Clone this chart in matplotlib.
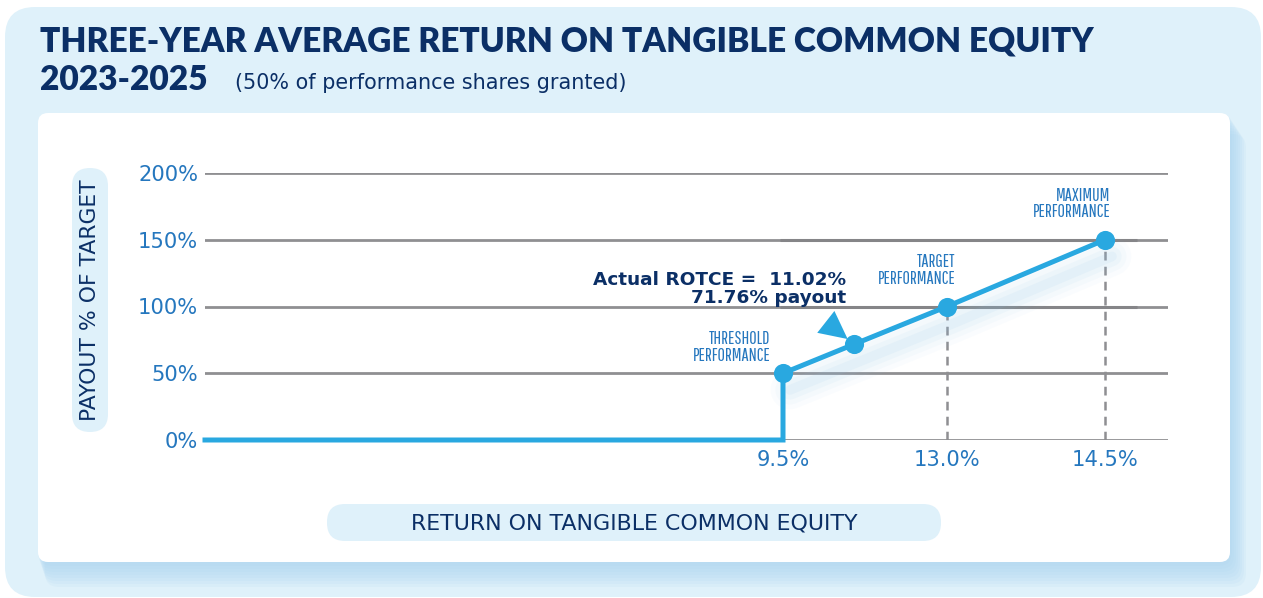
import numpy as np
import matplotlib
matplotlib.use("Agg")
import matplotlib.pyplot as plt
from matplotlib.patches import FancyBboxPatch
from matplotlib import transforms

# chart data
rotce = [9.5, 11.02, 13.0, 14.5]
payout = [50, 71.76, 100, 150]
point_names = ["THRESHOLD\nPERFORMANCE", "", "TARGET\nPERFORMANCE", "MAXIMUM\nPERFORMANCE"]
x_ticks = [9.5, 13.0, 14.5]
x_tick_labels = ["9.5%", "13.0%", "14.5%"]
y_ticks = [0, 50, 100, 150, 200]
y_tick_labels = ["0%", "50%", "100%", "150%", "200%"]
actual_label = "Actual ROTCE =  11.02%\n71.76% payout"

NAVY = "#0b2f66"
BLUE = "#29a8e0"
TICKBLUE = "#2577be"
GRAY = "#8f8f92"
PALE = "#dff1fa"
SANS = ["DejaVu Sans"]
HEAVY = ["Lato", "DejaVu Sans"]
COND = ["Pathway Gothic One", "PT Sans Narrow", "Roboto Condensed", "IBM Plex Sans Condensed",
        "DejaVu Sans"]

W, H = 1263, 598
fig = plt.figure(figsize=(W / 100, H / 100), dpi=100)
fig.patch.set_facecolor("white")
ident = transforms.IdentityTransform()
renderer = fig.canvas.get_renderer()


def box(x0, y0, x1, y1, r, color, alpha=1.0, z=-5):
    # pixel box, measured from the top-left corner
    p = FancyBboxPatch((x0 + r, H - y1 + r), x1 - x0 - 2 * r, y1 - y0 - 2 * r,
                       boxstyle=f"round,pad={r}", transform=ident,
                       fc=color, ec="none", alpha=alpha, zorder=z)
    fig.patches.append(p)


def ftext(x, y, s, **kw):
    return fig.text(x / W, 1 - y / H, s, **kw)


def fit(t, target, vertical=False):
    # scale the font so the text covers the same width as in the reference
    bb = t.get_window_extent(renderer)
    size = bb.height if vertical else bb.width
    t.set_fontsize(t.get_fontsize() * target / size)
    return t.get_fontsize()


# panels
box(5, 7, 1261, 597, 30, PALE)
for i in range(8):
    box(38 + i, 113 + 3 * i, 1230 + 2 + i * 2, 562 + 4 + i * 3, 14, "#a8d4f0", alpha=0.12)
box(38, 113, 1230, 562, 10, "white")

# titles
t = ftext(40, 52, "THREE-YEAR AVERAGE RETURN ON TANGIBLE COMMON EQUITY",
          fontsize=24, fontweight="heavy", family=HEAVY, color=NAVY, va="baseline")
title_size = fit(t, 1057)
ftext(40, 90, "2023-2025", fontsize=title_size, fontweight="heavy", family=HEAVY,
      color=NAVY, va="baseline")
t = ftext(235, 89, "(50% of performance shares granted)", fontsize=14, family=SANS,
          color=NAVY, va="baseline")
fit(t, 393)

# axis label pills
box(72, 168, 108, 432, 18, PALE)
t = ftext(90, 300, "PAYOUT % OF TARGET", rotation=90, ha="center", va="center",
          fontsize=15, family=SANS, color=NAVY)
fit(t, 242, vertical=True)
box(327, 504, 941, 541, 18, PALE)
t = ftext(634, 523, "RETURN ON TANGIBLE COMMON EQUITY", ha="center", va="center",
          fontsize=15, family=SANS, color=NAVY)
fit(t, 447)

# tick label size taken from the width of "200%"
probe = fig.text(0, 0, y_tick_labels[-1], fontsize=14, family=SANS)
tick_size = fit(probe, 60)
probe.remove()

ax = fig.add_axes([205 / W, 1 - 440 / H, 963 / W, 267 / H])
ax.set_facecolor("none")
ax.set_zorder(3)

# uneven spacing of the x axis, as in the original layout
xk = [0.0, 9.5, 13.0, 14.5, 15.5]
uk = [0.0, 578.0, 742.0, 900.0, 963.0]
ax.set_xscale("function", functions=(lambda v: np.interp(v, xk, uk),
                                     lambda u: np.interp(u, uk, xk)))
ax.set_xlim(xk[0], xk[-1])
ax.set_ylim(0, 200)
for s in ax.spines.values():
    s.set_visible(False)

for y in y_ticks:
    ax.axhline(y, color=GRAY, lw=2.0, zorder=1)
ax.hlines([100, 150], 9.45, 15.0, color="#858588", lw=2.2, zorder=1)
ax.vlines(rotce[2:], 0, payout[2:], color=GRAY, lw=1.8, ls=(0, (3.5, 2.5)), zorder=1)

# soft shadow under the rising line
shift = ax.transData + transforms.ScaledTranslation(5 / 72, -12 / 72, fig.dpi_scale_trans)
for lw, a in [(28, 0.04), (21, 0.05), (14, 0.07), (7, 0.09)]:
    ax.plot(rotce, payout, color="#8ec3ea", lw=lw, alpha=a, transform=shift,
            solid_capstyle="round", zorder=2)

line_x = [xk[0], rotce[0]] + rotce
line_y = [0, 0] + payout
ax.plot(line_x, line_y, color=BLUE, lw=3.6, zorder=4, solid_joinstyle="miter", clip_on=False)
ax.scatter(rotce, payout, s=190, color=BLUE, zorder=5, clip_on=False, linewidths=0)

offsets = [(-9, 7), None, (6, 14), (4, 14)]
for x, y, name, off in zip(rotce, payout, point_names, offsets):
    if name:
        t = ax.annotate(name, (x, y), xytext=off, textcoords="offset points", ha="right",
                        va="bottom", fontsize=11, family=COND, color=TICKBLUE,
                        linespacing=1.05)
        fit(t, 78)

t = ax.annotate(actual_label, (rotce[1], payout[1]), xytext=(-6, 27), textcoords="offset points",
                ha="right", va="bottom", fontsize=13, fontweight="bold", family=SANS, color=NAVY,
                multialignment="right", linespacing=1.0)
fit(t, 252)
ax.annotate("", (rotce[1], payout[1]), xytext=(-28, 22), textcoords="offset points",
            arrowprops=dict(arrowstyle="-|>,head_length=1.0,head_width=0.5", mutation_scale=20,
                            color=BLUE, lw=0, shrinkA=0, shrinkB=6))

ax.set_yticks(y_ticks, y_tick_labels)
ax.set_xticks(x_ticks, x_tick_labels)
ax.xaxis.set_minor_locator(matplotlib.ticker.NullLocator())
ax.tick_params(length=0, labelcolor=TICKBLUE, labelsize=tick_size)
ax.tick_params(axis="y", pad=5)
ax.tick_params(axis="x", pad=7)

fig.savefig("out.png", dpi=100, facecolor="white")
